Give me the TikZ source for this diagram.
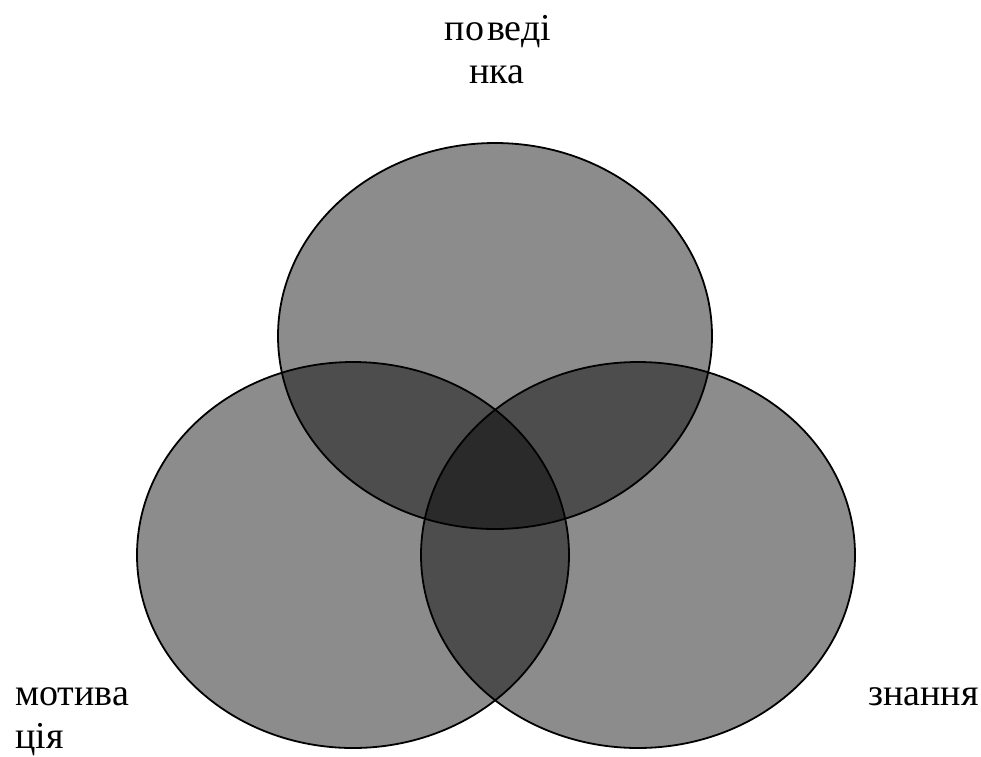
\documentclass[tikz,border=0pt]{standalone}
\usepackage{fontspec}
\setmainfont{Liberation Serif}
\tikzset{
  setcircle/.style={draw=black, line width=1.8pt, fill=black, fill opacity=0.45},
  lbl/.style={inner sep=0pt, font=\fontsize{38}{43}\selectfont}
}
\begin{document}
\begin{tikzpicture}[x=1pt, y=-1pt]
  \useasboundingbox (0,0) rectangle (981,756);
  % three overlapping sets
  \path[setcircle] (495,336) ellipse [x radius=217, y radius=193];
  \path[setcircle] (353,555) ellipse [x radius=216, y radius=193];
  \path[setcircle] (638,555) ellipse [x radius=217, y radius=193];
  % labels
  \node[lbl, anchor=base] (top1) at (498,40) {по\kern3pt веді};
  \node[lbl, anchor=base] (top2) at (497,83) {нка};
  \node[lbl, anchor=base west] (left1) at (15,705) {мотива};
  \node[lbl, anchor=base west] (left2) at (15,748) {ція};
  \node[lbl, anchor=base west] (right1) at (868,705) {знання};
\end{tikzpicture}
\end{document}
